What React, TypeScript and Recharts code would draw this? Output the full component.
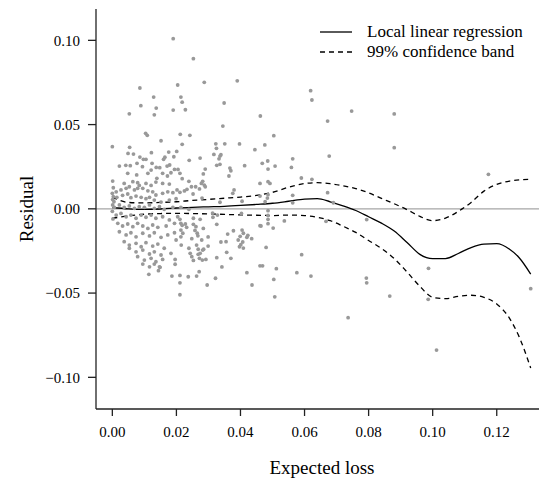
import React from 'react'
import {
  ComposedChart,
  Scatter,
  Line,
  XAxis,
  YAxis,
  ReferenceLine,
} from 'recharts'

// tick values
const X_TICKS = [0, 0.02, 0.04, 0.06, 0.08, 0.1, 0.12]
const Y_TICKS = [-0.1, -0.05, 0, 0.05, 0.1]

// observed residuals: [expected loss, residual]
const residuals: [number, number][] = [
  [0.0190, 0.1010], [0.0253, 0.0891], [0.0086, 0.0717], [0.0204, 0.0735], [0.0287, 0.0751], [0.0390, 0.0760],
  [0.0129, 0.0663], [0.0214, 0.0663], [0.0218, 0.0633], [0.0089, 0.0612], [0.0137, 0.0598], [0.0131, 0.0558],
  [0.0053, 0.0564], [0.0190, 0.0586], [0.0228, 0.0588], [0.0349, 0.0628], [0.0462, 0.0551], [0.0345, 0.0491],
  [0.0104, 0.0448], [0.0109, 0.0436], [0.0212, 0.0442], [0.0242, 0.0436], [0.0152, 0.0404], [0.0000, 0.0369],
  [0.0054, 0.0365], [0.0218, 0.0383], [0.0323, 0.0386], [0.0325, 0.0359], [0.0351, 0.0386], [0.0397, 0.0385],
  [0.0445, 0.0351], [0.0476, 0.0379], [0.0049, 0.0329], [0.0066, 0.0325], [0.0122, 0.0333], [0.0176, 0.0337],
  [0.0201, 0.0341], [0.0086, 0.0307], [0.0097, 0.0294], [0.0105, 0.0294], [0.0164, 0.0306], [0.0160, 0.0294],
  [0.0192, 0.0309], [0.0240, 0.0288], [0.0274, 0.0301], [0.0317, 0.0323], [0.0336, 0.0313], [0.0333, 0.0297],
  [0.0326, 0.0258], [0.0336, 0.0264], [0.0413, 0.0256], [0.0468, 0.0270], [0.0485, 0.0284], [0.0022, 0.0254],
  [0.0042, 0.0258], [0.0056, 0.0256], [0.0077, 0.0270], [0.0094, 0.0250], [0.0124, 0.0270], [0.0137, 0.0246],
  [0.0148, 0.0244], [0.0171, 0.0254], [0.0179, 0.0260], [0.0194, 0.0234], [0.0205, 0.0234], [0.0290, 0.0236],
  [0.0367, 0.0242],
  [0.0619, 0.0701], [0.0623, 0.0646], [0.0747, 0.0580], [0.0880, 0.0563], [0.0672, 0.0521], [0.0880, 0.0363],
  [0.0677, 0.0313], [0.0504, 0.0434], [0.0486, 0.0236], [0.0563, 0.0297], [0.0559, 0.0246], [0.0461, 0.0151],
  [0.0486, 0.0161], [0.0492, 0.0151], [0.0590, 0.0183], [0.0623, 0.0175], [0.0563, 0.0080], [0.0563, 0.0036],
  [0.0484, 0.0064], [0.0486, 0.0084], [0.0461, 0.0076], [0.0477, 0.0042], [0.0672, 0.0096], [0.0690, 0.0036],
  [0.0486, -0.0011], [0.0486, -0.0039], [0.0486, -0.0062], [0.0486, -0.0088], [0.0461, -0.0100], [0.0502, -0.0114],
  [0.0537, -0.0072], [0.0667, -0.0074], [0.0794, -0.0064], [0.0480, -0.0229], [0.0591, -0.0272], [0.0469, -0.0338],
  [0.0461, -0.0338], [0.0512, -0.0355], [0.0504, -0.0419], [0.0576, -0.0379], [0.0620, -0.0399], [0.0793, -0.0411],
  [0.0794, -0.0439], [0.0987, -0.0353], [0.0507, -0.0522], [0.0866, -0.0518], [0.0986, -0.0537], [0.0736, -0.0646],
  [0.1012, -0.0838], [0.1174, 0.0205], [0.1306, -0.0474],
  [0.0339, 0.0321], [0.0284, 0.0207], [0.0370, 0.0226], [0.0508, 0.0254], [0.0211, 0.0211], [0.0218, 0.0179],
  [0.0239, 0.0163], [0.0233, 0.0116], [0.0247, 0.0131], [0.0282, 0.0163], [0.0278, 0.0151], [0.0287, 0.0141],
  [0.0290, 0.0131], [0.0272, 0.0118], [0.0260, 0.0131], [0.0364, 0.0195], [0.0380, 0.0112], [0.0376, 0.0092],
  [0.0405, 0.0045], [0.0211, 0.0098], [0.0225, 0.0106], [0.0252, 0.0088], [0.0280, 0.0064], [0.0336, 0.0039],
  [0.0214, 0.0009], [0.0239, -0.0003], [0.0313, -0.0025], [0.0314, -0.0050], [0.0328, -0.0037], [0.0274, -0.0062],
  [0.0253, -0.0056], [0.0403, -0.0027], [0.0211, -0.0062], [0.0214, -0.0086], [0.0218, -0.0098], [0.0214, -0.0126],
  [0.0220, -0.0145], [0.0228, -0.0090], [0.0232, -0.0110], [0.0253, -0.0092], [0.0261, -0.0106], [0.0258, -0.0128],
  [0.0265, -0.0145], [0.0284, -0.0116], [0.0326, -0.0092], [0.0378, -0.0130], [0.0405, -0.0126], [0.0360, -0.0150],
  [0.0399, -0.0163], [0.0407, -0.0197], [0.0435, -0.0177], [0.0423, -0.0157], [0.0248, -0.0177], [0.0299, -0.0167],
  [0.0339, -0.0197], [0.0397, -0.0225], [0.0409, -0.0233], [0.0215, -0.0215], [0.0239, -0.0234], [0.0268, -0.0240],
  [0.0285, -0.0240], [0.0299, -0.0221], [0.0243, -0.0264], [0.0248, -0.0284], [0.0253, -0.0306], [0.0268, -0.0270],
  [0.0272, -0.0294], [0.0281, -0.0304], [0.0326, -0.0290], [0.0370, -0.0294], [0.0342, -0.0345], [0.0211, -0.0395],
  [0.0263, -0.0399], [0.0271, -0.0373], [0.0322, -0.0412], [0.0420, -0.0379], [0.0211, -0.0439], [0.0296, -0.0452],
  [0.0436, -0.0452], [0.0211, -0.0510],
  [0.0000, 0.0092], [0.0003, 0.0072], [0.0005, 0.0042], [0.0001, 0.0023], [0.0464, -0.0102], [0.0357, -0.0258],
  [0.0393, -0.0185], [0.0401, -0.0213], [0.0409, -0.0145], [0.0420, -0.0169], [0.0355, -0.0195], [0.0292, -0.0300],
  [0.0274, -0.0264], [0.0263, -0.0215], [0.0282, -0.0245], [0.0267, -0.0160], [0.0279, -0.0185], [0.0237, -0.0403],
  [0.0144, -0.0367], [0.0149, -0.0347], [0.0114, -0.0389],
  [0.0048, 0.0211], [0.0076, 0.0201], [0.0111, 0.0211], [0.0121, 0.0230], [0.0139, 0.0181], [0.0157, 0.0211],
  [0.0172, 0.0195], [0.0183, 0.0214], [0.0001, 0.0165], [0.0037, 0.0151], [0.0064, 0.0161], [0.0079, 0.0155],
  [0.0084, 0.0139], [0.0105, 0.0151], [0.0121, 0.0139], [0.0136, 0.0159], [0.0157, 0.0151], [0.0178, 0.0147],
  [0.0202, 0.0112],
  [0.0012, 0.0101], [0.0027, 0.0112], [0.0043, 0.0122], [0.0053, 0.0131], [0.0069, 0.0112], [0.0079, 0.0122],
  [0.0095, 0.0122], [0.0111, 0.0107], [0.0126, 0.0101], [0.0136, 0.0082], [0.0157, 0.0092], [0.0173, 0.0101],
  [0.0189, 0.0096],
  [0.0014, 0.0068], [0.0032, 0.0080], [0.0048, 0.0088], [0.0058, 0.0066], [0.0074, 0.0076], [0.0090, 0.0068],
  [0.0105, 0.0060], [0.0116, 0.0068], [0.0131, 0.0052], [0.0152, 0.0040], [0.0178, 0.0052], [0.0199, 0.0060],
  [0.0006, 0.0009], [0.0022, 0.0023], [0.0037, 0.0009], [0.0053, 0.0017], [0.0069, 0.0003], [0.0084, 0.0013],
  [0.0100, 0.0009], [0.0116, 0.0023], [0.0131, 0.0003], [0.0147, 0.0013], [0.0162, -0.0003], [0.0189, 0.0009],
  [0.0012, -0.0037], [0.0027, -0.0027], [0.0043, -0.0047], [0.0058, -0.0037], [0.0074, -0.0056], [0.0090, -0.0037],
  [0.0105, -0.0050], [0.0121, -0.0037], [0.0136, -0.0056], [0.0157, -0.0047], [0.0178, -0.0066], [0.0204, -0.0047],
  [0.0017, -0.0086], [0.0032, -0.0102], [0.0048, -0.0090], [0.0064, -0.0106], [0.0079, -0.0086], [0.0095, -0.0102],
  [0.0111, -0.0116], [0.0126, -0.0096], [0.0142, -0.0110], [0.0168, -0.0102], [0.0194, -0.0086],
  [0.0022, -0.0136], [0.0043, -0.0155], [0.0058, -0.0142], [0.0074, -0.0166], [0.0095, -0.0145], [0.0116, -0.0161],
  [0.0131, -0.0142], [0.0152, -0.0169], [0.0173, -0.0155], [0.0194, -0.0142],
  [0.0037, -0.0195], [0.0053, -0.0215], [0.0074, -0.0205], [0.0090, -0.0225], [0.0105, -0.0201], [0.0126, -0.0221],
  [0.0142, -0.0209], [0.0162, -0.0234], [0.0199, -0.0185], [0.0214, -0.0166],
  [0.0053, -0.0234], [0.0074, -0.0255], [0.0095, -0.0245], [0.0116, -0.0268], [0.0131, -0.0255], [0.0152, -0.0274],
  [0.0183, -0.0264],
  [0.0079, -0.0284], [0.0100, -0.0304], [0.0121, -0.0294], [0.0136, -0.0314], [0.0157, -0.0300],
  [0.0095, -0.0328], [0.0116, -0.0344], [0.0131, -0.0328], [0.0147, -0.0344],
  [0.0196, -0.0300], [0.0196, -0.0329], [0.0186, -0.0399],
  [0.0000, -0.0015], [0.0002, -0.0060], [0.0001, 0.0055], [0.0003, 0.0125],
]

// smooth fit and 99% band, read at these x positions
const curveX = [
  0, 0.005, 0.01, 0.015, 0.02, 0.025, 0.03, 0.035, 0.04, 0.045, 0.05, 0.055, 0.06, 0.064, 0.068, 0.072,
  0.076, 0.08, 0.084, 0.088, 0.092, 0.096, 0.1, 0.104, 0.108, 0.112, 0.116, 0.12, 0.124, 0.127, 0.1306,
]
const fitY = [
  0.0008, 0.0, -0.0003, -0.0001, 0.0005, 0.0009, 0.0012, 0.0015, 0.002, 0.0026, 0.0033, 0.0045, 0.0058, 0.006, 0.0042, 0.0018,
  -0.001, -0.0047, -0.0085, -0.0132, -0.02, -0.027, -0.0295, -0.0295, -0.0265, -0.023, -0.021, -0.0207, -0.024, -0.029, -0.0387,
]
const upperY = [
  0.007, 0.0038, 0.0035, 0.0038, 0.0042, 0.005, 0.0056, 0.0063, 0.007, 0.008, 0.0098, 0.0128, 0.015, 0.0155, 0.0149, 0.0137,
  0.012, 0.0095, 0.0062, 0.003, -0.0005, -0.0045, -0.007, -0.0055, -0.0015, 0.0038, 0.0105, 0.0145, 0.0165, 0.0172, 0.0175,
]
const lowerY = [
  -0.0056, -0.0042, -0.0032, -0.0028, -0.0027, -0.0028, -0.003, -0.0033, -0.0036, -0.0038, -0.004, -0.0037, -0.004, -0.005, -0.007, -0.0103,
  -0.014, -0.0188, -0.0235, -0.0295, -0.0375, -0.046, -0.0525, -0.0533, -0.052, -0.0513, -0.0525, -0.0565, -0.065, -0.076, -0.0945,
]

const LEGEND = [
  { label: 'Local linear regression', dash: undefined },
  { label: '99% confidence band', dash: '5 4' },
]

const FONT = '"Liberation Serif", "Times New Roman", Times, serif'
const INK = '#222'

const X_DOMAIN: [number, number] = [-0.0051, 0.136]
const Y_DOMAIN: [number, number] = [-0.1188, 0.1186]

const fmt = (v: number) => {
  const s = Math.abs(v).toFixed(2)
  return v < -1e-9 ? '\u2212' + s : s
}

const Dot = (props: any) => <circle cx={props.cx} cy={props.cy} r={1.9} fill="#999" />

export default function App() {
  const points = residuals.map(([x, y]) => ({ x, y }))
  const curve = curveX.map((x, i) => ({ x, fit: fitY[i], upper: upperY[i], lower: lowerY[i] }))

  return (
    <div
      style={{
        position: 'fixed',
        left: 0,
        top: 0,
        width: 539,
        height: 482,
        overflow: 'hidden',
        background: '#fff',
        fontFamily: FONT,
      }}
    >
      <ComposedChart
        width={560}
        height={482}
        data={curve}
        margin={{ top: 9, right: 12, bottom: 0, left: 0 }}
      >
        <XAxis
          dataKey="x"
          type="number"
          domain={X_DOMAIN}
          ticks={X_TICKS}
          allowDataOverflow
          tickFormatter={fmt}
          height={73}
          tickSize={7}
          tickMargin={10}
          stroke={INK}
          strokeWidth={1.3}
          tick={{ fontSize: 15, fill: '#000', fontFamily: FONT }}
          label={{
            value: 'Expected loss',
            position: 'insideBottom',
            offset: 8,
            style: { fontSize: 19, fill: '#000', fontFamily: FONT },
          }}
        />
        <XAxis
          xAxisId="top"
          orientation="top"
          type="number"
          domain={X_DOMAIN}
          height={0}
          tick={false}
          tickLine={false}
          stroke={INK}
          strokeWidth={1.3}
        />
        <YAxis
          type="number"
          domain={Y_DOMAIN}
          ticks={Y_TICKS}
          allowDataOverflow
          tickFormatter={fmt}
          width={96}
          tickSize={8}
          tickMargin={8}
          stroke={INK}
          strokeWidth={1.3}
          tick={{ fontSize: 15, fill: '#000', fontFamily: FONT }}
          label={{
            value: 'Residual',
            angle: -90,
            position: 'insideLeft',
            offset: 26,
            style: { fontSize: 19, fill: '#000', fontFamily: FONT, textAnchor: 'middle' },
          }}
        />
        <ReferenceLine y={0} stroke="#a6a6a6" strokeWidth={1.2} />
        <Scatter data={points} dataKey="y" shape={Dot} isAnimationActive={false} />
        <Line dataKey="fit" type="monotone" stroke="#000" strokeWidth={1.3} dot={false} isAnimationActive={false} />
        <Line dataKey="upper" type="monotone" stroke="#000" strokeWidth={1.3} strokeDasharray="5 4" dot={false} isAnimationActive={false} />
        <Line dataKey="lower" type="monotone" stroke="#000" strokeWidth={1.3} strokeDasharray="5 4" dot={false} isAnimationActive={false} />
      </ComposedChart>
      <svg width={225} height={50} style={{ position: 'absolute', left: 318, top: 20 }}>
        {LEGEND.map((item, i) => (
          <g key={item.label}>
            <line x1={2} x2={34} y1={12 + i * 20} y2={12 + i * 20} stroke="#000" strokeWidth={1.3} strokeDasharray={item.dash} />
            <text x={49} y={11 + i * 20} dominantBaseline="central" fontSize={17} fontFamily={FONT} fill="#000">
              {item.label}
            </text>
          </g>
        ))}
      </svg>
    </div>
  )
}
